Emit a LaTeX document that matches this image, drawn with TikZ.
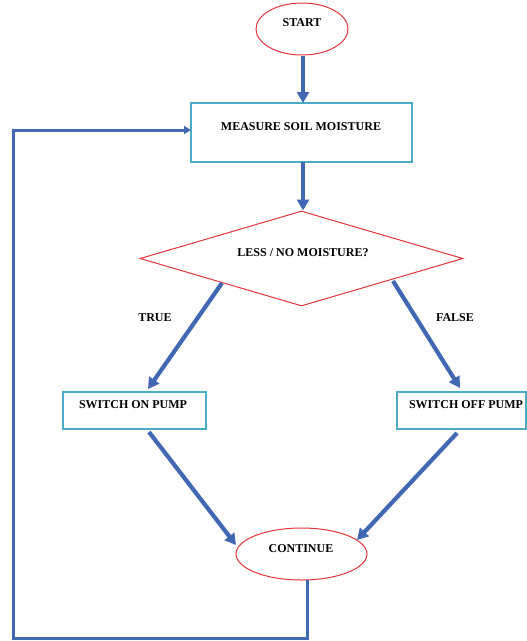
\documentclass[tikz,border=0pt]{standalone}
\usepackage{fontspec}
\setmainfont{Liberation Serif}
\usetikzlibrary{shapes.geometric,arrows.meta,calc}
\definecolor{arrowblue}{RGB}{66,104,180}
\definecolor{boxcyan}{RGB}{75,172,198}
\definecolor{shapered}{RGB}{226,52,60}
\begin{document}
\begin{tikzpicture}[x=1pt,y=-1pt,
  txt/.style={font=\bfseries\fontsize{12}{14}\selectfont, inner sep=0pt},
  procbox/.style={draw=boxcyan, line width=1.2pt, rectangle, inner sep=0pt},
  terminal/.style={draw=shapered, line width=1pt, ellipse, inner sep=0pt},
  decision/.style={draw=shapered, line width=1pt, diamond, inner sep=0pt},
  flow/.style={draw=arrowblue, line width=4.2pt, -{Triangle[length=11pt,width=12pt]}},
  loopline/.style={draw=arrowblue, line width=3pt, -{Triangle[length=7pt,width=8pt]}}]
\useasboundingbox (0,0) rectangle (527,641);
\fill[white] (0,0) rectangle (527,641);

% shapes
\node[terminal, minimum width=92pt, minimum height=52pt] (s) at (302,29) {};
\node[txt] (st) at (302,23) {START};

\node[procbox, minimum width=221pt, minimum height=59pt] (m) at (301.5,132.5) {};
\node[txt] (mt) at (301,127) {MEASURE SOIL MOISTURE};

\node[decision, shape aspect=3.4, minimum width=323pt, minimum height=95pt] (d) at (301.5,258.5) {};
\node[txt] (dt) at (303,253) {LESS / NO MOISTURE?};

\node[procbox, minimum width=143pt, minimum height=37pt] (on) at (134.5,410.5) {};
\node[txt] (ont) at (133,405) {SWITCH ON PUMP};

\node[procbox, minimum width=129pt, minimum height=37pt] (off) at (461.5,410.5) {};
\node[txt] (offt) at (466,405) {SWITCH OFF PUMP};

\node[terminal, minimum width=131pt, minimum height=52pt] (c) at (301.5,554) {};
\node[txt] (ct) at (301,549) {CONTINUE};

\node[txt] (tl) at (155,318) {TRUE};
\node[txt] (fl) at (455,318) {FALSE};

% connectors
\coordinate (dl) at (222,283);
\coordinate (dr) at (393,281);
\coordinate (ontip) at (148,389);
\coordinate (offtip) at (460,388);
\coordinate (onb) at (149,432);
\coordinate (offb) at (457,433);
\coordinate (cin1) at (236,545);
\coordinate (cin2) at (357,540);
\coordinate (cb) at (307,580);
\coordinate (lb) at (307,638);
\coordinate (ll) at (13,638);
\coordinate (lt) at (13,130);
\coordinate (mleft) at (191,130);

\draw[flow] (s.south -| 303,0) -- (303,103);
\draw[flow] (303,162) -- (d.north -| 303,0);
\draw[flow] (dl) -- (ontip);
\draw[flow] (dr) -- (offtip);
\draw[flow] (onb) -- (cin1);
\draw[flow] (offb) -- (cin2);
\draw[loopline] (cb) -- (lb) -- (ll) -- (lt) -- (mleft);
\end{tikzpicture}
\end{document}
